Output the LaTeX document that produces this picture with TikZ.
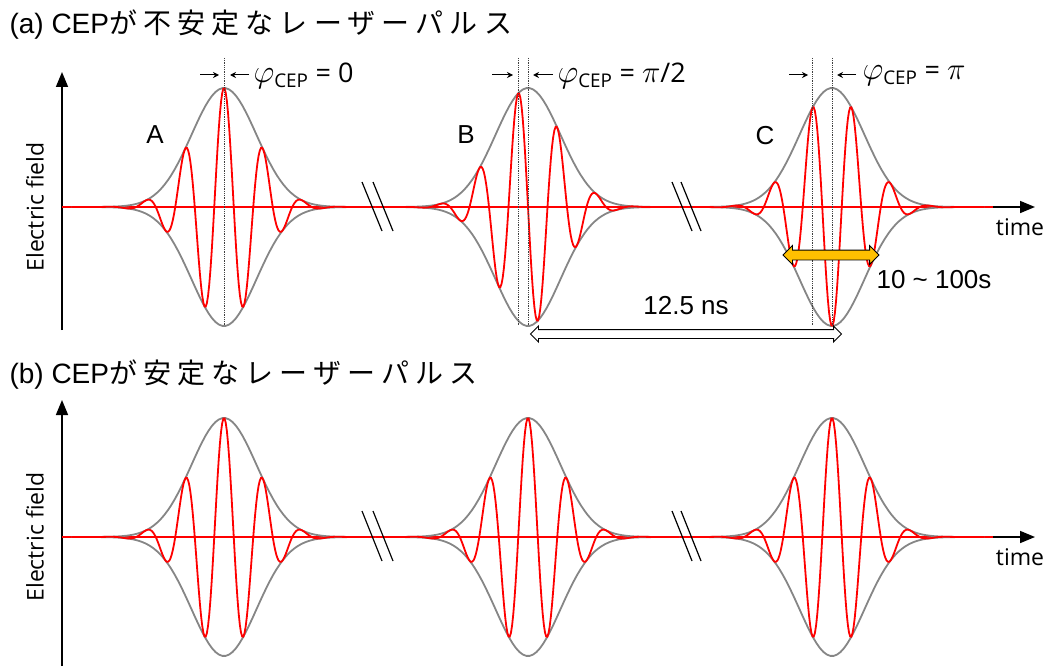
\documentclass[tikz,border=0pt]{standalone}
\usepackage{graphicx}
\usepackage{fontspec}
\setmainfont{Liberation Sans}
\newfontfamily\cjk[LetterSpace=22]{Noto Sans CJK JP}
\newfontfamily\uifont{Open Sans}
\usetikzlibrary{arrows.meta, shapes.arrows}
\definecolor{EnvGray}{HTML}{868686}
\definecolor{WaveRed}{HTML}{FF0000}
\definecolor{BandOrange}{HTML}{FFC000}
\newcommand{\fsz}[1]{\fontsize{#1}{#1}\selectfont}
\newcommand{\phicep}{\scalebox{1.3}{$\varphi$}\textsubscript{CEP}}
\newcommand{\bigpi}{\scalebox{1.25}{$\pi$}}

\begin{document}
\begin{tikzpicture}[x=1pt, y=-1pt,
  env/.style={draw=EnvGray, line width=1.8pt},
  wave/.style={draw=WaveRed, line width=1.8pt},
  axis/.style={-{Triangle[length=15pt, width=12pt]}, line width=1.6pt},
  guide/.style={densely dotted, line width=0.8pt, black!75},
  brk/.style={line width=1.2pt},
  ptr/.style={-{Stealth[length=6pt, width=6pt]}, line width=1pt},
  ttl/.style={anchor=west, font=\fsz{28}},
  lbl/.style={font=\uifont\fsz{23}},
  phs/.style={anchor=west, font=\uifont\fsz{27}},
  tag/.style={font=\fsz{26}},
  blockarr/.style={double arrow, draw=black, line width=0.9pt, inner xsep=0pt,
                   inner ysep=4.5pt, double arrow head extend=4.5pt}
]
\useasboundingbox (0,0) rectangle (1051,666);

%% ---- (a) unstable CEP ----
\node[ttl] (titleA) at (6,25) {(a) CEP{\cjk が不安定なレーザーパルス}};

\coordinate (a-bot)  at (62,330);
\coordinate (a-top)  at (62,72);
\coordinate (a-orig) at (62,207);
\coordinate (a-end)  at (1035,207);
\coordinate (a-redend) at (993,207);
\draw[axis] (a-bot) -- (a-top);
\draw[axis] (a-orig) -- (a-end);
\node[lbl, rotate=90] (efieldA) at (35,207) {Electric field};
\node[lbl] (timeA) at (1020,227) {time};

\draw[wave] (a-orig) -- (a-redend);
\foreach \cx/\ph in {224/0, 528/90, 832/180} {
  \draw[env] plot[domain=-3.9:3.9, samples=90] ({\cx+39*\x}, {207-119*exp(-0.72*\x*\x)});
  \draw[env] plot[domain=-3.9:3.9, samples=90] ({\cx+39*\x}, {207+119*exp(-0.72*\x*\x)});
  \draw[wave] plot[domain=-3.9:3.9, samples=260] ({\cx+39*\x}, {207-119*exp(-0.72*\x*\x)*cos(360*\x+\ph)});
}

% breaks
\foreach \bx in {362, 373, 672, 681}
  \draw[brk] (\bx,182) -- (\bx+20,231);

% CEP markers
\draw[guide] (224,58) -- (224,326);
\draw[guide] (518,58) -- (518,326);
\draw[guide] (528,58) -- (528,326);
\draw[guide] (812,58) -- (812,326);
\draw[guide] (832,58) -- (832,326);
\draw[ptr] (200,75) -- (219,75);
\draw[ptr] (249,75) -- (230,75);
\draw[ptr] (492,75) -- (513,75);
\draw[ptr] (553,75) -- (533,75);
\draw[ptr] (789,75) -- (808,75);
\draw[ptr] (856,75) -- (837,75);
\node[phs] (phiA) at (250,76) {\phicep{} = 0};
\node[phs] (phiB) at (554,76) {\phicep{} = \bigpi/2};
\node[phs] (phiC) at (859,76) {\phicep{} = \bigpi};

\node[tag] (tagA) at (155,135) {A};
\node[tag] (tagB) at (466,135) {B};
\node[tag] (tagC) at (765,136) {C};

\node[blockarr, fill=BandOrange, minimum height=96pt] (band) at (831,255) {};
\node[tag, anchor=west] (bandlbl) at (873,280) {10 \textasciitilde{} 100s};

\node[blockarr, fill=white, inner ysep=4pt, double arrow head extend=3.5pt,
      minimum height=311pt] (period) at (686,334) {};
\node[tag] (periodlbl) at (686,306) {12.5 ns};

%% ---- (b) stable CEP ----
\node[ttl] (titleB) at (6,375) {(b) CEP{\cjk が安定なレーザーパルス}};

\coordinate (b-bot)  at (62,666);
\coordinate (b-top)  at (62,400);
\coordinate (b-orig) at (62,537);
\coordinate (b-end)  at (1035,537);
\coordinate (b-redend) at (993,537);
\draw[axis] (b-bot) -- (b-top);
\draw[axis] (b-orig) -- (b-end);
\node[lbl, rotate=90] (efieldB) at (35,537) {Electric field};
\node[lbl] (timeB) at (1020,557) {time};

\draw[wave] (b-orig) -- (b-redend);
\foreach \cx in {224, 528, 832} {
  \draw[env] plot[domain=-3.9:3.9, samples=90] ({\cx+39*\x}, {537-119*exp(-0.72*\x*\x)});
  \draw[env] plot[domain=-3.9:3.9, samples=90] ({\cx+39*\x}, {537+119*exp(-0.72*\x*\x)});
  \draw[wave] plot[domain=-3.9:3.9, samples=260] ({\cx+39*\x}, {537-119*exp(-0.72*\x*\x)*cos(360*\x)});
}

% breaks
\foreach \bx in {362, 373, 672, 681}
  \draw[brk] (\bx,511) -- (\bx+20,561);

\end{tikzpicture}
\end{document}
